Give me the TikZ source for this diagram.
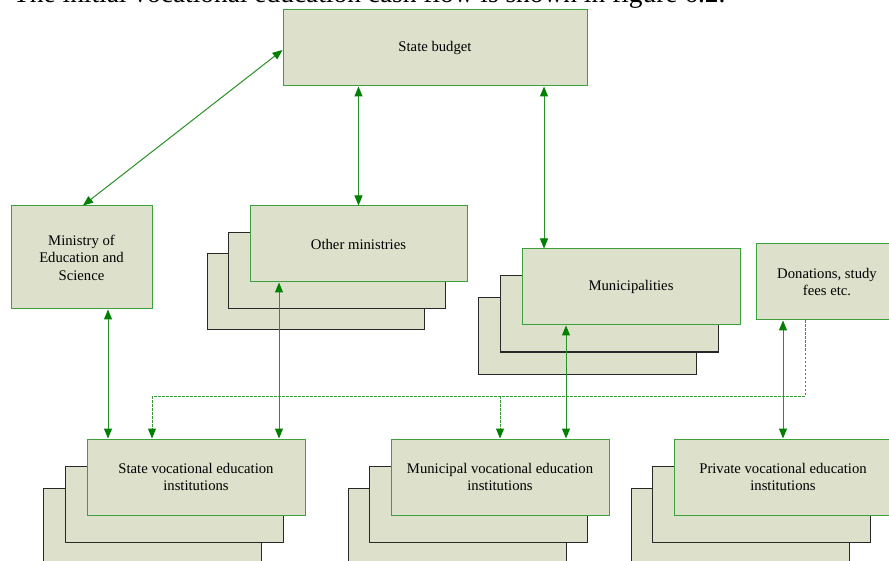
\documentclass[tikz,border=0pt]{standalone}
\usepackage{fontspec}
\setmainfont{Liberation Serif}
\usetikzlibrary{arrows.meta,calc}
\definecolor{boxfill}{RGB}{221,225,204}
\definecolor{boxgreen}{RGB}{60,160,60}
\definecolor{arrgreen}{RGB}{0,128,0}
\definecolor{linegreen}{RGB}{40,145,40}
\definecolor{dashgreen}{RGB}{50,155,50}
\definecolor{backline}{RGB}{40,40,40}
\tikzset{
  frontbox/.style={draw=boxgreen, line width=1pt, fill=boxfill, align=center, inner sep=2pt,
    font=\fontsize{14.7}{17.5}\selectfont},
  backbox/.style={draw=backline, line width=1pt, fill=boxfill},
  tip/.style={},
  arr/.style={draw=linegreen, line width=1pt,
    {Triangle[length=10pt,width=8pt,color=arrgreen]}-{Triangle[length=10pt,width=8pt,color=arrgreen]}},
  dasharr/.style={draw=dashgreen, line width=1pt, dash pattern=on 2.5pt off 1.5pt,
    -{Triangle[length=10pt,width=8pt,color=arrgreen]}},
  dashline/.style={draw=dashgreen, line width=1pt, dash pattern=on 2.5pt off 1.5pt},
}
\begin{document}
\begin{tikzpicture}[x=1pt,y=-1pt]
\useasboundingbox (0,0) rectangle (889,561);
\clip (0,0) rectangle (889,561);
\fill[white] (0,0) rectangle (889,561);

% caption line at top, cut by the page edge as in the reference
\node[anchor=base west, inner sep=0pt, font=\fontsize{27.4}{30}\selectfont] (cap) at (13,3) {The initial vocational education cash flow is shown in figure 6.2.};

% State budget
\node[frontbox, minimum width=304pt, minimum height=76pt] (sb) at (435,48) {State budget};

% Ministry
\node[frontbox, minimum width=141pt, minimum height=103pt] (min) at (81.5,257.5) {Ministry of\\Education and\\Science};

% Other ministries stack
\node[backbox, minimum width=217pt, minimum height=76pt] (om3) at (315.5,292) {};
\node[backbox, minimum width=217pt, minimum height=76pt] (om2) at (336.5,271) {};
\node[frontbox, minimum width=217pt, minimum height=76pt] (om) at (358.5,244) {Other ministries};

% Municipalities stack
\node[backbox, minimum width=218pt, minimum height=76pt] (mu3) at (587,336) {};
\node[backbox, minimum width=218pt, minimum height=76pt] (mu2) at (609,314) {};
\node[frontbox, minimum width=218pt, minimum height=76pt] (mu) at (631,287) {Municipalities};

% Donations
\node[frontbox, minimum width=142pt, minimum height=76pt] (don) at (827,282) {Donations, study\\fees etc.};

% State vocational stack
\node[backbox, minimum width=218pt, minimum height=76pt] (sv3) at (152,526) {};
\node[backbox, minimum width=218pt, minimum height=76pt] (sv2) at (174,504) {};
\node[frontbox, minimum width=218pt, minimum height=76pt] (sv) at (196,477) {State vocational education\\institutions};

% Municipal vocational stack
\node[backbox, minimum width=218pt, minimum height=76pt] (mv3) at (457,526) {};
\node[backbox, minimum width=218pt, minimum height=76pt] (mv2) at (478,504) {};
\node[frontbox, minimum width=218pt, minimum height=76pt] (mv) at (500,477) {Municipal vocational education\\institutions};

% Private vocational stack
\node[backbox, minimum width=218pt, minimum height=76pt] (pv3) at (740,526) {};
\node[backbox, minimum width=218pt, minimum height=76pt] (pv2) at (761,504) {};
\node[frontbox, minimum width=218pt, minimum height=76pt] (pv) at (783,477) {Private vocational education\\institutions};

% helper coordinates
\coordinate (sbL) at ($(sb.west)+(0,2)$);
\coordinate (minT) at ($(min.north)+(1.5,0)$);
\coordinate (omT) at (om.north);
\coordinate (muT) at ($(mu.north)+(-87,0)$);
\coordinate (minB) at ($(min.south)+(26.5,0)$);
\coordinate (omB) at ($(om.south)+(-79.5,0)$);
\coordinate (muB) at ($(mu.south)+(-65,0)$);
\coordinate (donB) at ($(don.south)+(-44,0)$);
\coordinate (donD) at ($(don.south)+(-22,0)$);
\coordinate (svD) at ($(sv.north)+(-44,0)$);
\coordinate (dashY) at (0,396);

% solid arrows
\draw[arr] (sbL) -- (minT);
\draw[arr] (sb.south -| omT) -- (omT);
\draw[arr] (sb.south -| muT) -- (muT);
\draw[arr] (minB) -- (minB |- sv.north);
\draw[arr] (omB) -- (omB |- sv.north);
\draw[arr] (muB) -- (muB |- mv.north);
\draw[arr] (donB) -- (donB |- pv.north);

% dashed flow from donations
\draw[dashline] (donD) -- (donD |- dashY) -- (svD |- dashY);
\draw[dasharr] (svD |- dashY) -- (svD);
\draw[dasharr] (mv.north |- dashY) -- (mv.north);
\end{tikzpicture}
\end{document}
